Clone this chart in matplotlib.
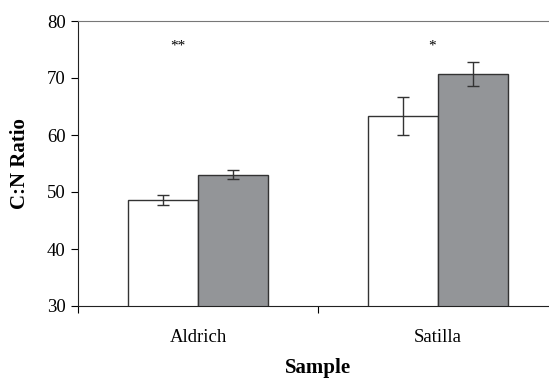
import matplotlib
matplotlib.use("Agg")
import matplotlib.pyplot as plt
import numpy as np

plt.rcParams['font.family'] = ['Liberation Serif', 'DejaVu Serif']

samples = ["Aldrich", "Satilla"]
white_vals = [48.6, 63.3]
white_err = [0.8, 3.3]
gray_vals = [53.0, 70.7]
gray_err = [0.8, 2.1]
signif = ["**", "*"]

fig = plt.figure(figsize=(5.49, 3.78), dpi=100)
W, H = 549, 378
ax = fig.add_axes([78 / W, 1 - 306 / H, (W - 78) / W, (306 - 21) / H])

centers = np.array([0.5, 1.5])
bw = 0.29
ax.bar(centers - bw / 2, white_vals, bw, bottom=0, color="white", edgecolor="#333333", linewidth=1.0,
       yerr=white_err, capsize=4, error_kw=dict(ecolor="#333333", elinewidth=1.0, capthick=1.0), zorder=2)
ax.bar(centers + bw / 2, gray_vals, bw, color="#939598", edgecolor="#333333", linewidth=1.0,
       yerr=gray_err, capsize=4, error_kw=dict(ecolor="#333333", elinewidth=1.0, capthick=1.0), zorder=2)

for x, s in zip([0.417, 1.475], signif):
    ax.text(x, 75.6, s, ha="center", va="center", fontsize=11)

ax.set_ylim(30, 80)
ax.set_xlim(0, (W - 78) / 240)
ax.set_yticks([30, 40, 50, 60, 70, 80])
ax.set_xticks([0.0, 1.0])
ax.set_xticklabels(["", ""])
ax.tick_params(axis="y", direction="out", length=5, labelsize=13.5, pad=4)
ax.tick_params(axis="x", direction="out", length=5, width=0.8)
for c, name in zip(centers, samples):
    ax.text(c, -0.11, name, transform=ax.get_xaxis_transform(), ha="center", va="center", fontsize=13.5)

ax.spines["right"].set_visible(False)
ax.spines["top"].set_color("#777777")
ax.spines["left"].set_color("#222222")
ax.spines["bottom"].set_color("#222222")

ax.set_ylabel("C:N Ratio", fontsize=15, fontweight="bold", labelpad=12)
fig.text(318 / W, 1 - 368 / H, "Sample", ha="center", va="center", fontsize=15, fontweight="bold")

fig.savefig("out.png", dpi=100)
